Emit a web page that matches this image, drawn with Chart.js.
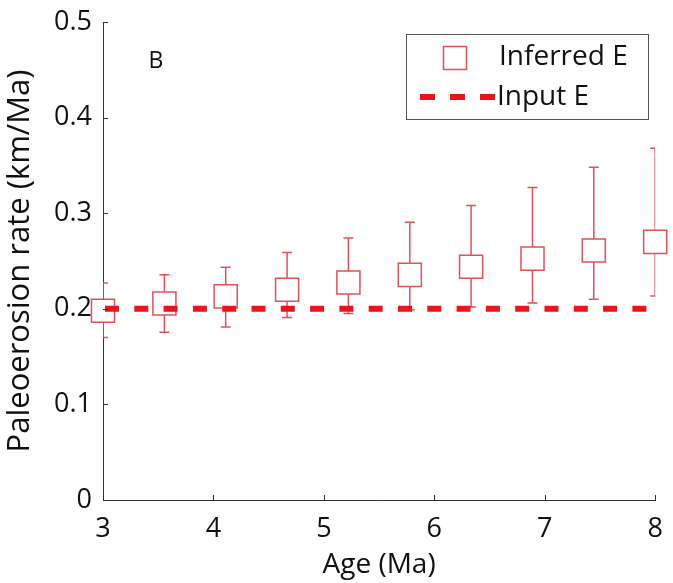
<!DOCTYPE html>
<html>
<head>
<meta charset="utf-8">
<script src="https://cdn.jsdelivr.net/npm/chart.js@4/dist/chart.umd.min.js"></script>
<style>
  html, body { margin: 0; padding: 0; background: #fff; }
  #wrap { width: 673px; height: 583px; }
</style>
</head>
<body>
<div id="wrap"><canvas id="c" width="673" height="583"></canvas></div>
<script>
// ---- data ----
const ages = [3, 3.556, 4.111, 4.667, 5.222, 5.778, 6.333, 6.889, 7.444, 8];
const inferredE = [0.198, 0.2055, 0.213, 0.220, 0.2275, 0.2355, 0.244, 0.2525, 0.261, 0.270];
const upperE = [0.227, 0.2355, 0.2435, 0.259, 0.274, 0.2905, 0.308, 0.327, 0.348, 0.368];
const lowerE = [0.170, 0.1755, 0.181, 0.191, 0.195, 0.199, 0.202, 0.206, 0.210, 0.2135];
const inputAges = [3, 8];
const inputE = [0.2, 0.2];
const xTickLabels = ['3', '4', '5', '6', '7', '8'];
const yTickLabels = ['0', '0.1', '0.2', '0.3', '0.4', '0.5'];
const seriesNames = ['Inferred E', 'Input E'];
const panelLetter = 'B';

const FONT = "'Open Sans', 'Liberation Sans', sans-serif";
const BOX_RED = '#e2505a';
const LINE_RED = '#e8141e';
const AXIS = '#333333';

const errorBars = {
  id: 'errorBars',
  beforeDatasetsDraw(chart) {
    const {ctx, chartArea: a, scales: {x, y}} = chart;
    ctx.save();
    ctx.beginPath();
    ctx.rect(a.left, a.top, a.right - a.left, a.bottom - a.top);
    ctx.clip();
    ctx.strokeStyle = BOX_RED;
    ctx.lineWidth = 1.5;
    for (let i = 0; i < ages.length; i++) {
      const px = x.getPixelForValue(ages[i]);
      const pu = y.getPixelForValue(upperE[i]);
      const pl = y.getPixelForValue(lowerE[i]);
      ctx.beginPath();
      ctx.moveTo(px, pu); ctx.lineTo(px, pl);
      ctx.moveTo(px - 5, pu); ctx.lineTo(px + 5, pu);
      ctx.moveTo(px - 5, pl); ctx.lineTo(px + 5, pl);
      ctx.stroke();
    }
    ctx.restore();
  }
};

const inwardTicks = {
  id: 'inwardTicks',
  afterDraw(chart) {
    const {ctx, chartArea: a, scales: {x, y}} = chart;
    ctx.save();
    ctx.strokeStyle = AXIS;
    ctx.lineWidth = 1;
    y.ticks.forEach(t => {
      const py = Math.round(y.getPixelForValue(t.value)) + 0.5;
      ctx.beginPath(); ctx.moveTo(a.left, py); ctx.lineTo(a.left + 5, py); ctx.stroke();
    });
    x.ticks.forEach(t => {
      const px = Math.round(x.getPixelForValue(t.value)) + 0.5;
      ctx.beginPath(); ctx.moveTo(px, a.bottom); ctx.lineTo(px, a.bottom - 5); ctx.stroke();
    });
    ctx.restore();
  }
};

const boxLegend = {
  id: 'boxLegend',
  afterDraw(chart) {
    const {ctx} = chart;
    ctx.save();
    ctx.strokeStyle = '#555';
    ctx.lineWidth = 1;
    ctx.strokeRect(406.5, 34.5, 242, 85);
    ctx.strokeStyle = BOX_RED;
    ctx.lineWidth = 1.5;
    ctx.strokeRect(443.5, 46.5, 23, 23);
    ctx.fillStyle = LINE_RED;
    [420, 450, 480].forEach(x0 => ctx.fillRect(x0, 94, 15, 6));
    ctx.fillStyle = '#111';
    ctx.font = '28px ' + FONT;
    ctx.textBaseline = 'middle';
    ctx.textAlign = 'left';
    ctx.fillText(seriesNames[0], 499, 57);
    ctx.fillText(seriesNames[1], 497, 97);
    ctx.font = '23px ' + FONT;
    ctx.textAlign = 'center';
    ctx.fillText(panelLetter, 156, 61);
    ctx.restore();
  }
};

new Chart(document.getElementById('c'), {
  type: 'scatter',
  data: {
    datasets: [
      {
        label: seriesNames[1],
        type: 'line',
        data: inputAges.map((a, i) => ({x: a, y: inputE[i]})),
        borderColor: LINE_RED,
        borderWidth: 6,
        borderDash: [14, 15.3],
        borderDashOffset: 27.3,
        borderCapStyle: 'butt',
        pointRadius: 0,
        fill: false,
        order: 0
      },
      {
        label: seriesNames[0],
        data: ages.map((a, i) => ({x: a, y: inferredE[i]})),
        pointStyle: 'rect',
        pointRadius: 16.3,
        pointHoverRadius: 16.3,
        borderColor: BOX_RED,
        backgroundColor: '#ffffff',
        pointBorderWidth: 1.5,
        borderWidth: 1.5,
        clip: false,
        order: 1
      }
    ]
  },
  options: {
    responsive: false,
    animation: false,
    events: [],
    layout: { padding: { left: 0, right: 6, top: 22, bottom: 0 } },
    plugins: { legend: { display: false }, tooltip: { enabled: false } },
    scales: {
      x: {
        type: 'linear',
        min: 3, max: 8,
        afterFit(s) { s.height = 83; s.paddingLeft = 0; s.paddingRight = 0; },
        afterBuildTicks(s) { s.ticks = xTickLabels.map(v => ({value: Number(v)})); },
        ticks: {
          callback: (v) => xTickLabels.find(l => Number(l) === v) ?? '',
          font: { family: FONT, size: 27 },
          color: '#111',
          padding: 13,
          maxRotation: 0
        },
        grid: { drawOnChartArea: false, drawTicks: false },
        border: { display: true, color: AXIS, width: 1 },
        title: {
          display: true,
          text: 'Age (Ma)',
          font: { family: FONT, size: 28 },
          color: '#111',
          padding: { top: 0, bottom: 1 }
        }
      },
      y: {
        min: 0, max: 0.5,
        afterFit(s) { s.width = 103; s.paddingTop = 0; s.paddingBottom = 0; },
        afterBuildTicks(s) { s.ticks = yTickLabels.map(v => ({value: Number(v)})); },
        ticks: {
          callback: (v) => yTickLabels.find(l => Math.abs(Number(l) - v) < 1e-9) ?? '',
          font: { family: FONT, size: 27 },
          color: '#111',
          padding: 11
        },
        grid: { drawOnChartArea: false, drawTicks: false },
        border: { display: true, color: AXIS, width: 1 },
        title: {
          display: true,
          text: 'Paleoerosion rate (km/Ma)',
          font: { family: FONT, size: 31 },
          color: '#111',
          padding: { top: 2, bottom: 0 }
        }
      }
    }
  },
  plugins: [errorBars, inwardTicks, boxLegend]
});
</script>
</body>
</html>
